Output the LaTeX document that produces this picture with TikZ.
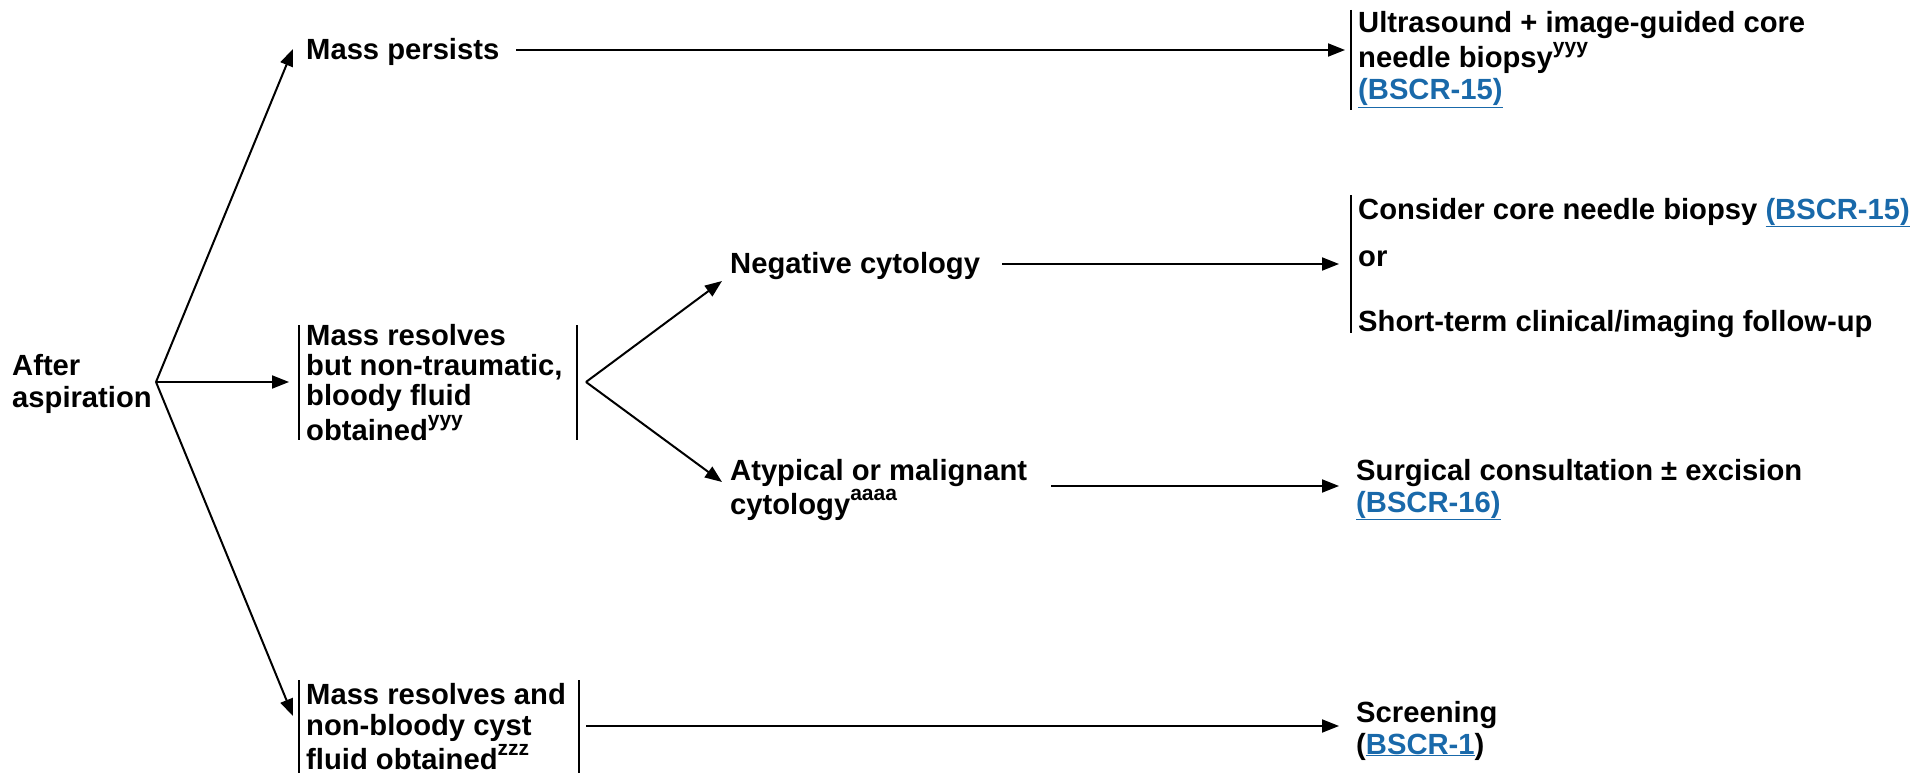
\documentclass[tikz,border=0pt]{standalone}
\usepackage{fontspec}
\setmainfont{Liberation Sans}
\usetikzlibrary{arrows.meta}
\definecolor{linkblue}{RGB}{25,105,170}
\newcommand\lnk[1]{\textcolor{linkblue}{\underline{#1}}}
\newcommand\supx[1]{\raisebox{14pt}{\fontsize{21}{21}\selectfont #1}}
\newcommand\mlines[1]{\begin{tabular}[t]{@{}l@{}}#1\end{tabular}}
\tikzset{
  txt/.style={anchor=base west, inner sep=0pt, font=\fontsize{29.2}{32}\selectfont\bfseries},
  arr/.style={line width=2pt, -{Triangle[length=17pt,width=13pt]}},
  barline/.style={line width=2pt}
}
\begin{document}
\begin{tikzpicture}[x=1pt,y=-1pt]
\useasboundingbox (0,0) rectangle (1914,773);
% nodes
\node[txt] (aft) at (12,375) {\mlines{After\\aspiration}};
\coordinate (P0) at (156,382);
\node[txt] (mp) at (306,60) {Mass persists};
\node[txt] (us) at (1358,33) {\mlines{Ultrasound + image-guided core\\needle biopsy\supx{yyy}\\\lnk{(BSCR-15)}}};
\node[txt] (mr) at (306,345) {\renewcommand\arraystretch{0.95}\mlines{Mass resolves\\but non-traumatic,\\bloody fluid\\obtained\supx{yyy}}};
\coordinate (P1) at (586,382);
\node[txt] (neg) at (730,273) {Negative cytology};
\node[txt] (cons) at (1358,219) {Consider core needle biopsy \lnk{(BSCR-15)}};
\node[txt] (or) at (1358,266) {or};
\node[txt] (st) at (1358,331) {Short-term clinical/imaging follow-up};
\node[txt] (aty) at (730,480) {\mlines{Atypical or malignant\\cytology\supx{aaaa}}};
\node[txt] (surg) at (1356,480) {\mlines{Surgical consultation ± excision\\\lnk{(BSCR-16)}}};
\node[txt] (bot) at (306,704) {\renewcommand\arraystretch{0.97}\mlines{Mass resolves and\\non-bloody cyst\\fluid obtained\supx{zzz}}};
\node[txt] (scr) at (1356,722) {\mlines{Screening\\(\lnk{BSCR-1})}};
% bars
\draw[barline] (1351,10) -- (1351,110);
\draw[barline] (299,325) -- (299,440);
\draw[barline] (577,325) -- (577,440);
\draw[barline] (1351,195) -- (1351,333);
\draw[barline] (299,680) -- (299,773);
\draw[barline] (579,680) -- (579,773);
% connector end coordinates
\coordinate (mpIn) at (293,49);
\coordinate (mrIn) at (289,382);
\coordinate (botIn) at (293,716);
\coordinate (mpOut) at (516,50);
\coordinate (usIn) at (1345,50);
\coordinate (negIn) at (722,281);
\coordinate (atyIn) at (722,482);
\coordinate (negOut) at (1002,264);
\coordinate (consIn) at (1339,264);
\coordinate (atyOut) at (1051,486);
\coordinate (surgIn) at (1339,486);
\coordinate (botOut) at (586,726);
\coordinate (scrIn) at (1339,726);
% connectors
\draw[arr] (P0) -- (mpIn);
\draw[arr] (P0) -- (mrIn);
\draw[arr] (P0) -- (botIn);
\draw[arr] (mpOut) -- (usIn);
\draw[arr] (P1) -- (negIn);
\draw[arr] (P1) -- (atyIn);
\draw[arr] (negOut) -- (consIn);
\draw[arr] (atyOut) -- (surgIn);
\draw[arr] (botOut) -- (scrIn);
\end{tikzpicture}
\end{document}
